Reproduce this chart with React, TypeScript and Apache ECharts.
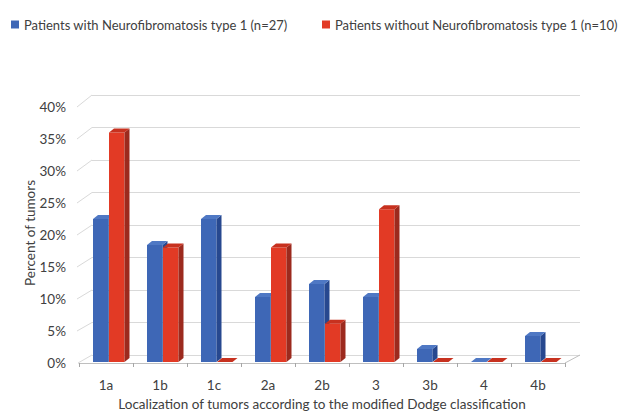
import React, { useEffect, useRef } from "react";
import * as echarts from "echarts";

const categories = ["1a", "1b", "1c", "2a", "2b", "3", "3b", "4", "4b"];
const withNF1 = [22, 18, 22, 10, 12, 10, 2, 0, 4];
const withoutNF1 = [35.3, 17.6, 0, 17.6, 5.9, 23.5, 0, 0, 0];
const seriesNames = [
  "Patients with Neurofibromatosis type 1 (n=27)",
  "Patients without Neurofibromatosis type 1 (n=10)",
];
const yTicks = [0, 5, 10, 15, 20, 25, 30, 35, 40];
const xTitle = "Localization of tumors according to the modified Dodge classification";
const yTitle = "Percent of tumors";

const FONT = "Lato, 'Open Sans', sans-serif";
const TEXT = "#404040";
const GRID_LINE = "#D9D9D9";
const FS = 13.5;

// layout (pixels)
const FRONT = { left: 79, right: 62, top: 107, bottom: 49 };
const BACK = { left: 92, right: 47, top: 95, bottom: 57 };
const BARS = { left: 79, right: 62, top: 102, bottom: 50 };
const DEPTH_X = 5;
const DEPTH_Y = 4;

const palettes = [
  { front: "#3E67B6", side: "#27488F", top: "#4F78C4" },
  { front: "#E23A25", side: "#9C2A1E", top: "#C7311F" },
];
const barOffsets = [14 / 54, 30 / 54];
const barWidthFrac = 15.5 / 54;

export default function App() {
  const ref = useRef<HTMLDivElement>(null);
  useEffect(() => {
    if (!ref.current) return;
    document.body.style.margin = "0";
    const chart = echarts.init(ref.current, null, { renderer: "svg" });
    const H = 412;
    const W = 627;
    const frontBottomY = H - FRONT.bottom;
    const frontTopY = FRONT.top;
    const frontRightX = W - FRONT.right;

    const barRender = (si: number) => (params: any, api: any) => {
      const ci = api.value(0);
      const v = api.value(1);
      const band = api.size([1, 0])[0];
      const base = api.coord([ci, 0]);
      const top = api.coord([ci, v]);
      const start = base[0] - band / 2;
      const x0 = start + band * barOffsets[si];
      const w = band * barWidthFrac;
      const yb = base[1];
      const yt = top[1];
      const p = palettes[si];
      return {
        type: "group",
        children: [
          {
            type: "rect",
            shape: { x: x0, y: yt, width: w, height: yb - yt },
            style: { fill: p.front },
          },
          {
            type: "polygon",
            shape: {
              points: [
                [x0 + w, yt],
                [x0 + w + DEPTH_X, yt - DEPTH_Y],
                [x0 + w + DEPTH_X, yb - DEPTH_Y],
                [x0 + w, yb],
              ],
            },
            style: { fill: p.side },
          },
          {
            type: "polygon",
            shape: {
              points: [
                [x0, yt],
                [x0 + DEPTH_X, yt - DEPTH_Y],
                [x0 + w + DEPTH_X, yt - DEPTH_Y],
                [x0 + w, yt],
              ],
            },
            style: { fill: p.top },
          },
        ],
      };
    };

    const connectorRender = (params: any, api: any) => {
      const v = api.value(0);
      const cs = params.coordSys;
      const backY = api.coord([0, v])[1];
      const frontY = frontBottomY - (v / 40) * (frontBottomY - frontTopY);
      const frontX = FRONT.left - 2 + (v === 0 ? 1 : 0);
      const children: any[] = [
        {
          type: "line",
          shape: { x1: frontX, y1: frontY, x2: cs.x, y2: backY },
          style: { stroke: GRID_LINE, lineWidth: 1 },
        },
      ];
      if (v === 0) {
        children.push({
          type: "line",
          shape: { x1: frontRightX, y1: frontBottomY, x2: cs.x + cs.width, y2: backY },
          style: { stroke: "#BFBFBF", lineWidth: 1 },
        });
      }
      return { type: "group", children };
    };

    const tickCats = categories.flatMap((c) => [c + "_a", c + "_b"]);
    const legendBase = {
      top: 13,
      icon: "rect",
      itemWidth: 8,
      itemHeight: 8,
      itemGap: 4,
      textStyle: { fontFamily: FONT, fontSize: 13, color: TEXT },
    };

    chart.setOption({
      animation: false,
      textStyle: { fontFamily: FONT },
      legend: [
        { ...legendBase, data: [seriesNames[0]], left: 6 },
        { ...legendBase, data: [seriesNames[1]], left: 317 },
      ],
      grid: [
        { ...FRONT, containLabel: false, outerBoundsMode: "none" },
        { ...BACK, containLabel: false, outerBoundsMode: "none" },
        { ...BARS, containLabel: false, outerBoundsMode: "none" },
      ],
      graphic: [
        {
          type: "text",
          x: 30,
          y: 233,
          rotation: Math.PI / 2,
          style: {
            text: yTitle,
            fontFamily: FONT,
            fontSize: FS,
            fill: TEXT,
            align: "center",
            verticalAlign: "middle",
          },
        },
      ],
      xAxis: [
        {
          gridIndex: 0,
          type: "category",
          data: categories,
          axisLine: { show: true, lineStyle: { color: "#BFBFBF" } },
          axisTick: { show: false },
          axisLabel: { fontFamily: FONT, fontSize: FS, color: TEXT, margin: 15 },
          name: xTitle,
          nameLocation: "middle",
          nameGap: 32,
          nameTextStyle: { fontFamily: FONT, fontSize: FS, color: TEXT },
        },
        {
          gridIndex: 0,
          type: "category",
          data: tickCats,
          position: "bottom",
          axisLine: { show: false },
          axisTick: { show: true, length: 4, lineStyle: { color: "#A6A6A6" } },
          axisLabel: { show: false },
        },
        { gridIndex: 1, type: "category", data: categories, show: false },
        { gridIndex: 2, type: "category", data: categories, show: false },
      ],
      yAxis: [
        {
          gridIndex: 0,
          type: "value",
          min: 0,
          max: 40,
          interval: 5,
          axisLine: { show: false },
          axisTick: { show: false },
          splitLine: { show: false },
          axisLabel: {
            formatter: "{value}%",
            fontFamily: FONT,
            fontSize: FS,
            color: TEXT,
            margin: 13,
          },
        },
        {
          gridIndex: 1,
          type: "value",
          min: 0,
          max: 40,
          interval: 5,
          axisLine: { show: false },
          axisTick: { show: false },
          axisLabel: { show: false },
          splitLine: { show: true, lineStyle: { color: GRID_LINE, width: 1 } },
        },
        { gridIndex: 2, type: "value", min: 0, max: 40, show: false, splitLine: { show: false } },
      ],
      series: [
        {
          type: "custom",
          name: "connectors",
          xAxisIndex: 2,
          yAxisIndex: 1,
          data: yTicks.map((t) => [t]),
          renderItem: connectorRender,
          silent: true,
          z: 1,
        },
        {
          type: "custom",
          name: seriesNames[0],
          xAxisIndex: 3,
          yAxisIndex: 2,
          itemStyle: { color: palettes[0].front },
          data: withNF1.map((v, i) => [i, v]),
          renderItem: barRender(0),
          z: 3,
        },
        {
          type: "custom",
          name: seriesNames[1],
          xAxisIndex: 3,
          yAxisIndex: 2,
          itemStyle: { color: palettes[1].front },
          data: withoutNF1.map((v, i) => [i, v]),
          renderItem: barRender(1),
          z: 4,
        },
      ],
    });
    return () => chart.dispose();
  }, []);
  return <div ref={ref} style={{ width: 627, height: 412 }} />;
}
